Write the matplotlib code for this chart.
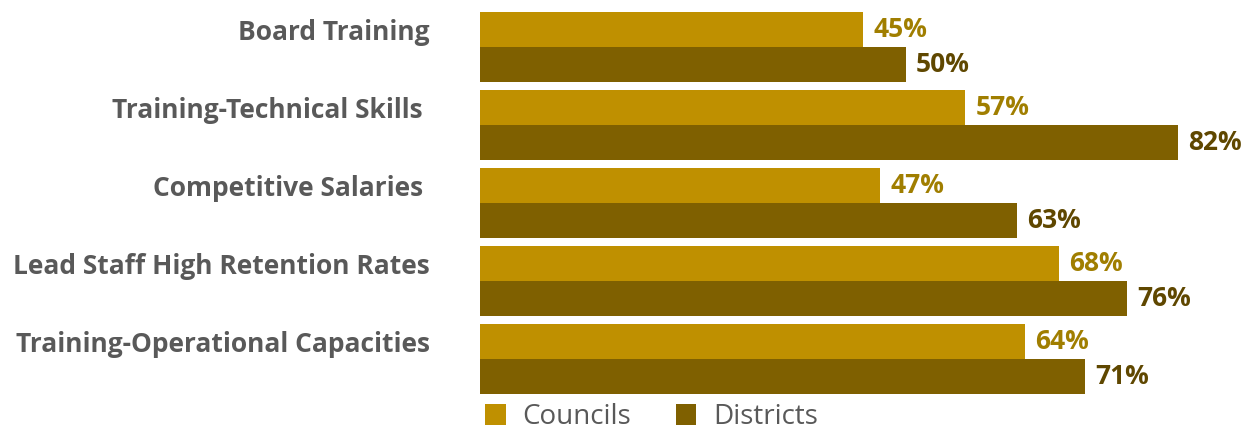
import matplotlib.pyplot as plt
import numpy as np

# data
categories = ['Board Training', 'Training-Technical Skills ', 'Competitive Salaries ',
              'Lead Staff High Retention Rates', 'Training-Operational Capacities']
councils = [45, 57, 47, 68, 64]
districts = [50, 82, 63, 76, 71]

councilColor = '#BF9000'
districtColor = '#7F6000'
councilText = '#A07E00'
districtText = '#5F4700'
labelColor = '#595959'

plt.rcParams['font.family'] = ['Open Sans', 'DejaVu Sans']

fig = plt.figure(figsize=(12.55, 4.30), dpi=100)
ax = fig.add_axes([480 / 1255, 1 - 394 / 430, 775 / 1255, 382 / 430])

y = np.arange(len(categories))
h = 0.45
b1 = ax.barh(y, councils, height=h, color=councilColor, label='Councils')
b2 = ax.barh(y + h, districts, height=h, color=districtColor, label='Districts')

for i in range(len(categories)):
    ax.text(councils[i] + 1.2, y[i], '{0}%'.format(councils[i]), va='center', ha='left',
            fontsize=19, fontweight='bold', color=councilText)
    ax.text(districts[i] + 1.2, y[i] + h, '{0}%'.format(districts[i]), va='center', ha='left',
            fontsize=19, fontweight='bold', color=districtText)

ax.set_xlim(0, 91)
ax.set_ylim(len(categories) - 1 + h + h / 2, -h / 2)
ax.set_yticks(y)
ax.set_yticklabels(categories, fontsize=19, fontweight='bold', color=labelColor)
ax.tick_params(axis='y', length=0, pad=36)
ax.set_xticks([])
for s in ax.spines.values():
    s.set_visible(False)

fig.legend(handles=[b1, b2], loc='center', bbox_to_anchor=(0.519, 0.03), ncol=2, frameon=False,
           fontsize=20, labelcolor=labelColor, handlelength=0.75, handleheight=0.75,
           columnspacing=1.6, handletextpad=0.6)

fig.savefig('out.png', dpi=100)
